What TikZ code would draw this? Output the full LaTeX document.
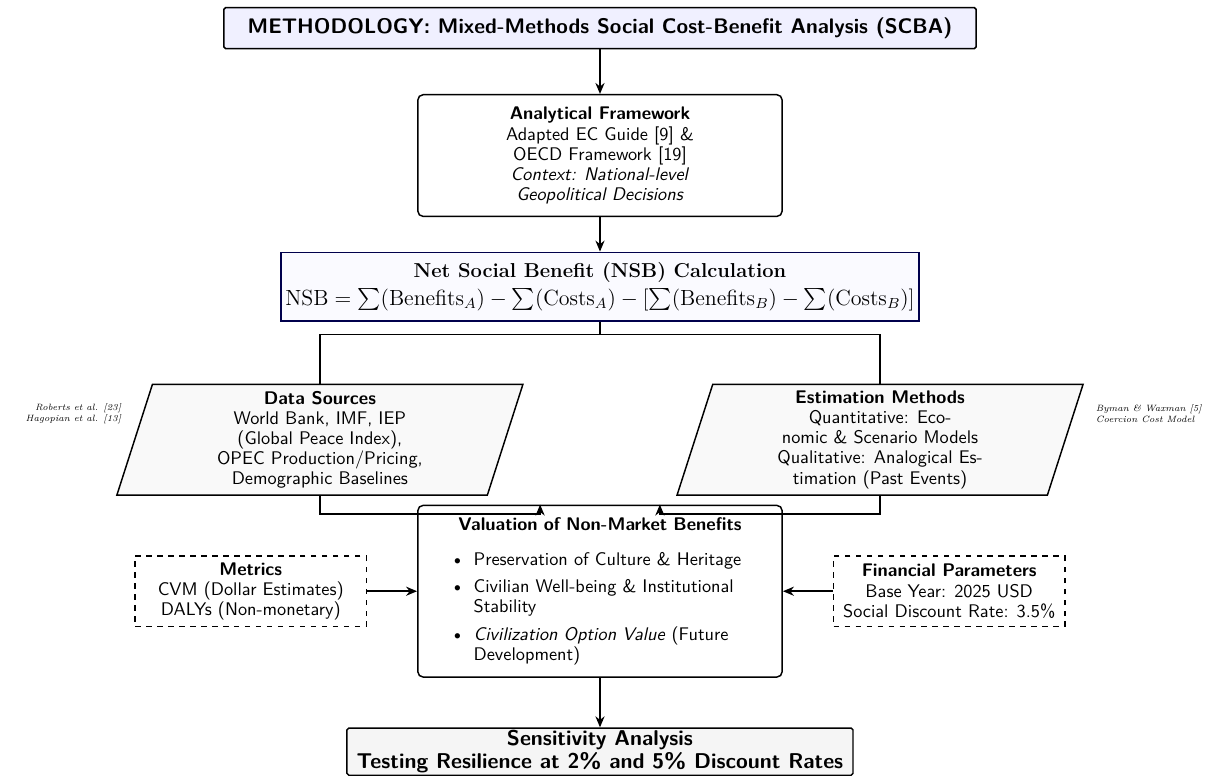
\documentclass[tikz,border=0pt]{standalone}
\usepackage{amsmath,amssymb}
\usepackage{tikz}
\usetikzlibrary{positioning,arrows.meta,shapes.geometric,calc}

\begin{document}
\begin{tikzpicture}[
  font=\sffamily\fontsize{10}{11}\selectfont,
  box/.style={draw, thick, rounded corners=3pt, align=center, fill=white},
  headbox/.style={draw, thick, rounded corners=1pt, fill=blue!6, minimum width=14.45cm,
                  minimum height=0.79cm, font=\sffamily\bfseries\fontsize{11.5}{13}\selectfont},
  calcbox/.style={draw=blue!30!black, line width=1pt, fill=blue!2, align=center,
                  font=\rmfamily\large, inner sep=2.5pt, minimum height=1.31cm},
  iobox/.style={trapezium, trapezium left angle=72, trapezium right angle=108,
                trapezium stretches body, draw, thick, fill=gray!5, align=center,
                minimum width=7.8cm, minimum height=2.13cm},
  parambox/.style={draw, thick, dashed, align=center, minimum width=4.44cm, minimum height=1.35cm},
  note/.style={font=\rmfamily\tiny\itshape},
  arrow/.style={-{Stealth[length=6pt,width=5pt]}, thick},
  link/.style={thick}
]
\useasboundingbox (-11.525,0.54) rectangle (11.775,-14.405);

% main column
\node[headbox] (head) at (0,0) {METHODOLOGY: Mixed-Methods Social Cost-Benefit Analysis (SCBA)};
\node[box, below=0.855cm of head, minimum width=7cm, minimum height=2.34cm] (fw)
  {\textbf{Analytical Framework}\\Adapted EC Guide [9] \&\\OECD Framework [19]\\
   \textit{Context: National-level}\\\textit{Geopolitical Decisions}};
\node[calcbox, below=0.66cm of fw] (nsb)
  {{\fontsize{11}{13}\selectfont\textbf{Net Social Benefit (NSB) Calculation}}\\[1pt]
   $\mathrm{NSB} = \sum(\mathrm{Benefits}_A) - \sum(\mathrm{Costs}_A)
    - [\sum(\mathrm{Benefits}_B) - \sum(\mathrm{Costs}_B)]$};

% inputs
\node[iobox, below=1.19cm of nsb, xshift=-5.38cm] (data)
  {\textbf{Data Sources}\\World Bank, IMF, IEP\\(Global Peace Index),\\
   OPEC Production/Pricing,\\Demographic Baselines};
\node[iobox, below=1.19cm of nsb, xshift=5.38cm] (est)
  {\textbf{Estimation Methods}\\Quantitative: Eco-\\nomic \& Scenario Models\\
   Qualitative: Analogical Es-\\timation (Past Events)};
\node[note, align=right, left=0.12cm of data, yshift=0.5cm] (refl) {Roberts et al. [23]\\Hagopian et al. [13]};
\node[note, align=left, right=0.45cm of est, yshift=0.5cm] (refr) {Byman \& Waxman [5]\\Coercion Cost Model};

% valuation
\node[box, below=3.515cm of nsb, minimum width=7cm, minimum height=3.3cm,
      text width=6.4cm, align=left] (val)
  {{\centering\textbf{Valuation of Non-Market Benefits}\par}
   \setlength{\leftmargini}{22pt}\setlength{\topsep}{3.5pt}\setlength{\partopsep}{0pt}
   \begin{itemize}\setlength{\itemsep}{0pt}\setlength{\parsep}{5pt}
   \item Preservation of Culture \& Heritage
   \item Civilian Well-being \& Institutional\newline Stability
   \item \textit{Civilization Option Value} (Future\newline Development)
   \end{itemize}};
\node[parambox, left=0.96cm of val] (metrics)
  {\textbf{Metrics}\\CVM (Dollar Estimates)\\DALYs (Non-monetary)};
\node[parambox, right=0.96cm of val] (fin)
  {\textbf{Financial Parameters}\\Base Year: 2025 USD\\Social Discount Rate: 3.5\%};
\node[box, below=0.95cm of val, minimum width=9.72cm, fill=gray!8, rounded corners=1pt,
      inner sep=1pt, font=\sffamily\bfseries\fontsize{11.7}{13}\selectfont] (sens)
  {Sensitivity Analysis\\Testing Resilience at 2\% and 5\% Discount Rates};

% connectors
\draw[arrow] (head) -- (fw);
\draw[arrow] (fw) -- (nsb);
\draw[link] (nsb.south) -- ++(0,-0.25) coordinate (split) -| (data.north);
\draw[link] (split) -| (est.north);
\draw[arrow] (data.south) -- ++(0,-0.35) -| ([xshift=-1.15cm]val.north);
\draw[arrow] (est.south) -- ++(0,-0.35) -| ([xshift=1.15cm]val.north);
\draw[arrow] (metrics) -- (val);
\draw[arrow] (fin) -- (val);
\draw[arrow] (val) -- (sens);
\end{tikzpicture}
\end{document}
